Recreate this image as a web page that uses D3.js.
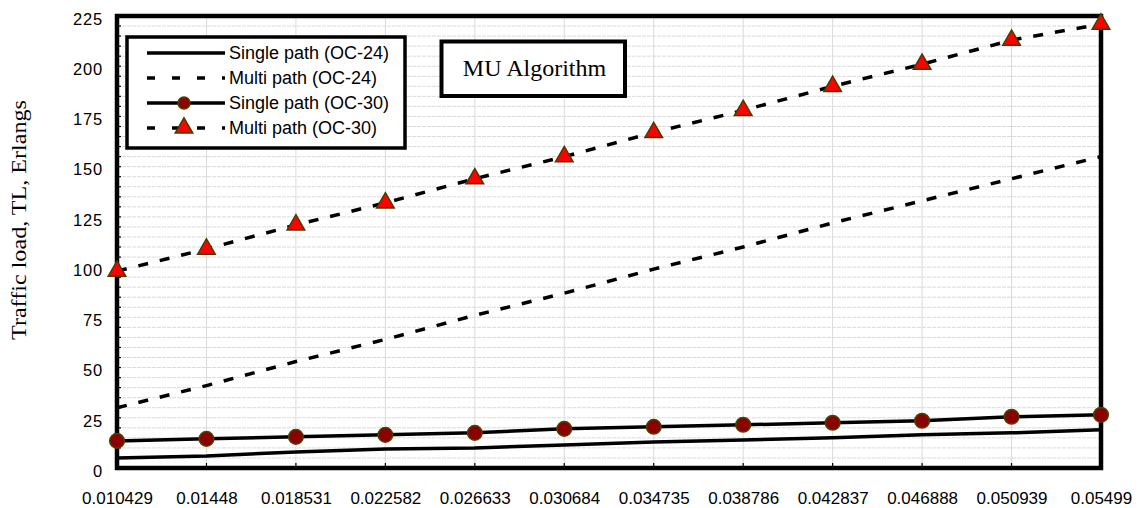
<!DOCTYPE html>
<html>
<head>
<meta charset="utf-8">
<script src="https://cdn.jsdelivr.net/npm/d3@7"></script>
<style>
  html, body { margin: 0; padding: 0; background: #fff; }
  svg { display: block; }
</style>
</head>
<body>
<svg id="chart" width="1141" height="508"></svg>
<script>
// Categories (x axis) and series values
const categories = ["0.010429","0.01448","0.018531","0.022582","0.026633","0.030684",
                    "0.034735","0.038786","0.042837","0.046888","0.050939","0.05499"];
const singleOC24 = [5, 6, 8, 9.5, 10, 11.5, 13, 14, 15, 16.5, 17.5, 19];
const multiOC24  = [30, 41, 53, 64, 76, 87, 99, 110, 122, 133, 144, 155];
const singleOC30 = [13.5, 14.5, 15.5, 16.5, 17.5, 19.5, 20.5, 21.5, 22.5, 23.5, 25.5, 26.5];
const multiOC30  = [98, 109, 121, 132, 144, 155, 167, 178, 190, 201, 213, 221];
const yTicks = [0, 25, 50, 75, 100, 125, 150, 175, 200, 225];
const legendLabels = ["Single path (OC-24)", "Multi path (OC-24)", "Single path (OC-30)", "Multi path (OC-30)"];

const svg = d3.select("#chart");
const plotL = 117, plotR = 1101, plotT = 16, plotB = 468;

const x = d3.scalePoint().domain(categories).range([plotL, plotR]);
const y = d3.scaleLinear().domain([0, 225]).range([plotB, plotT]);

// Grid: light horizontal lines every 5 units, vertical at each category
const grid = svg.append("g");
grid.selectAll("line.h").data(d3.range(5, 225, 5)).join("line")
  .attr("x1", plotL).attr("x2", plotR)
  .attr("y1", d => y(d)).attr("y2", d => y(d))
  .attr("stroke", "#dadada").attr("stroke-width", 1).attr("stroke-dasharray", "4,1");
grid.selectAll("line.v").data(categories.slice(1, -1)).join("line")
  .attr("x1", d => x(d)).attr("x2", d => x(d))
  .attr("y1", plotT).attr("y2", plotB)
  .attr("stroke", "#dadada").attr("stroke-width", 1);

// Minor ticks inside the left axis, category ticks inside the bottom axis
svg.append("g").selectAll("line").data(d3.range(5, 225, 5)).join("line")
  .attr("x1", plotL).attr("x2", plotL + 4)
  .attr("y1", d => y(d)).attr("y2", d => y(d))
  .attr("stroke", "#000").attr("stroke-width", 1.2);
svg.append("g").selectAll("line").data(categories.slice(1, -1)).join("line")
  .attr("x1", d => x(d)).attr("x2", d => x(d))
  .attr("y1", plotB).attr("y2", plotB - 5)
  .attr("stroke", "#000").attr("stroke-width", 1.2);

// Axis labels via d3 axes (domain and tick lines hidden; frame drawn separately)
const yAxis = svg.append("g").attr("transform", `translate(${plotL},3)`)
  .call(d3.axisLeft(y).tickValues(yTicks).tickSize(0).tickPadding(14));
yAxis.select(".domain").remove();
yAxis.selectAll("text").attr("font-family", "Liberation Sans, Arial, sans-serif")
  .attr("font-size", 16.5).attr("letter-spacing", "0.8px").attr("fill", "#000");

const xAxis = svg.append("g").attr("transform", `translate(0,${plotB})`)
  .call(d3.axisBottom(x).tickSize(0).tickPadding(24));
xAxis.select(".domain").remove();
xAxis.selectAll("text").attr("font-family", "Liberation Sans, Arial, sans-serif")
  .attr("font-size", 17).attr("fill", "#000");

// Y axis title
svg.append("text")
  .attr("transform", `translate(26,220) rotate(-90)`)
  .attr("text-anchor", "middle")
  .attr("font-family", "Liberation Serif, Times New Roman, serif")
  .attr("font-size", 21)
  .attr("textLength", 240).attr("lengthAdjust", "spacingAndGlyphs")
  .text("Traffic load, TL, Erlangs");

// Series lines
const line = vals => d3.line().x((d, i) => x(categories[i])).y(d => y(d))(vals);
const series = [
  { vals: singleOC24, dash: null },
  { vals: multiOC24, dash: "10,12" },
  { vals: singleOC30, dash: null },
  { vals: multiOC30, dash: "10,12" }
];
svg.append("g").selectAll("path").data(series).join("path")
  .attr("d", s => line(s.vals))
  .attr("fill", "none").attr("stroke", "#000").attr("stroke-width", 3.5)
  .attr("stroke-dasharray", s => s.dash);

// Frame around the plot area
svg.append("rect").attr("x", plotL).attr("y", plotT)
  .attr("width", plotR - plotL).attr("height", plotB - plotT)
  .attr("fill", "none").attr("stroke", "#000").attr("stroke-width", 4.5);

// Markers
const tri = d3.symbol().type(d3.symbolTriangle).size(135);
svg.append("g").selectAll("circle").data(singleOC30).join("circle")
  .attr("cx", (d, i) => x(categories[i])).attr("cy", d => y(d)).attr("r", 7.3)
  .attr("fill", "#8b0000").attr("stroke", "#4a4200").attr("stroke-width", 1.5);
svg.append("g").selectAll("path").data(multiOC30).join("path")
  .attr("d", tri)
  .attr("transform", (d, i) => `translate(${x(categories[i])},${y(d)})`)
  .attr("fill", "#ff0000").attr("stroke", "#4a3c00").attr("stroke-width", 1.5);

// Legend
const lg = svg.append("g");
lg.append("rect").attr("x", 127).attr("y", 37).attr("width", 278).attr("height", 111)
  .attr("fill", "#fff").attr("stroke", "#000").attr("stroke-width", 3.5);
const rowY = [53, 78, 103, 128];
legendLabels.forEach((lab, i) => {
  const s = series[i];
  lg.append("line").attr("x1", 147).attr("x2", 225).attr("y1", rowY[i]).attr("y2", rowY[i])
    .attr("stroke", "#000").attr("stroke-width", 3.5)
    .attr("stroke-dasharray", s.dash ? "8,17" : null);
  if (i === 2) {
    lg.append("circle").attr("cx", 184).attr("cy", rowY[i]).attr("r", 6)
      .attr("fill", "#8b0000").attr("stroke", "#4a4200").attr("stroke-width", 1.5);
  }
  if (i === 3) {
    lg.append("path").attr("d", tri).attr("transform", `translate(184,${rowY[i]})`)
      .attr("fill", "#ff0000").attr("stroke", "#4a3c00").attr("stroke-width", 1.5);
  }
  lg.append("text").attr("x", 229).attr("y", rowY[i] + 6.4)
    .attr("font-family", "Liberation Sans, Arial, sans-serif").attr("font-size", 18)
    .text(lab);
});

// Title box
svg.append("rect").attr("x", 441.5).attr("y", 41.5).attr("width", 183.5).attr("height", 54.5)
  .attr("fill", "#fff").attr("stroke", "#000").attr("stroke-width", 4);
svg.append("text").attr("x", 534.5).attr("y", 76).attr("text-anchor", "middle")
  .attr("font-family", "Liberation Serif, Times New Roman, serif").attr("font-size", 24)
  .text("MU Algorithm");
</script>
</body>
</html>
